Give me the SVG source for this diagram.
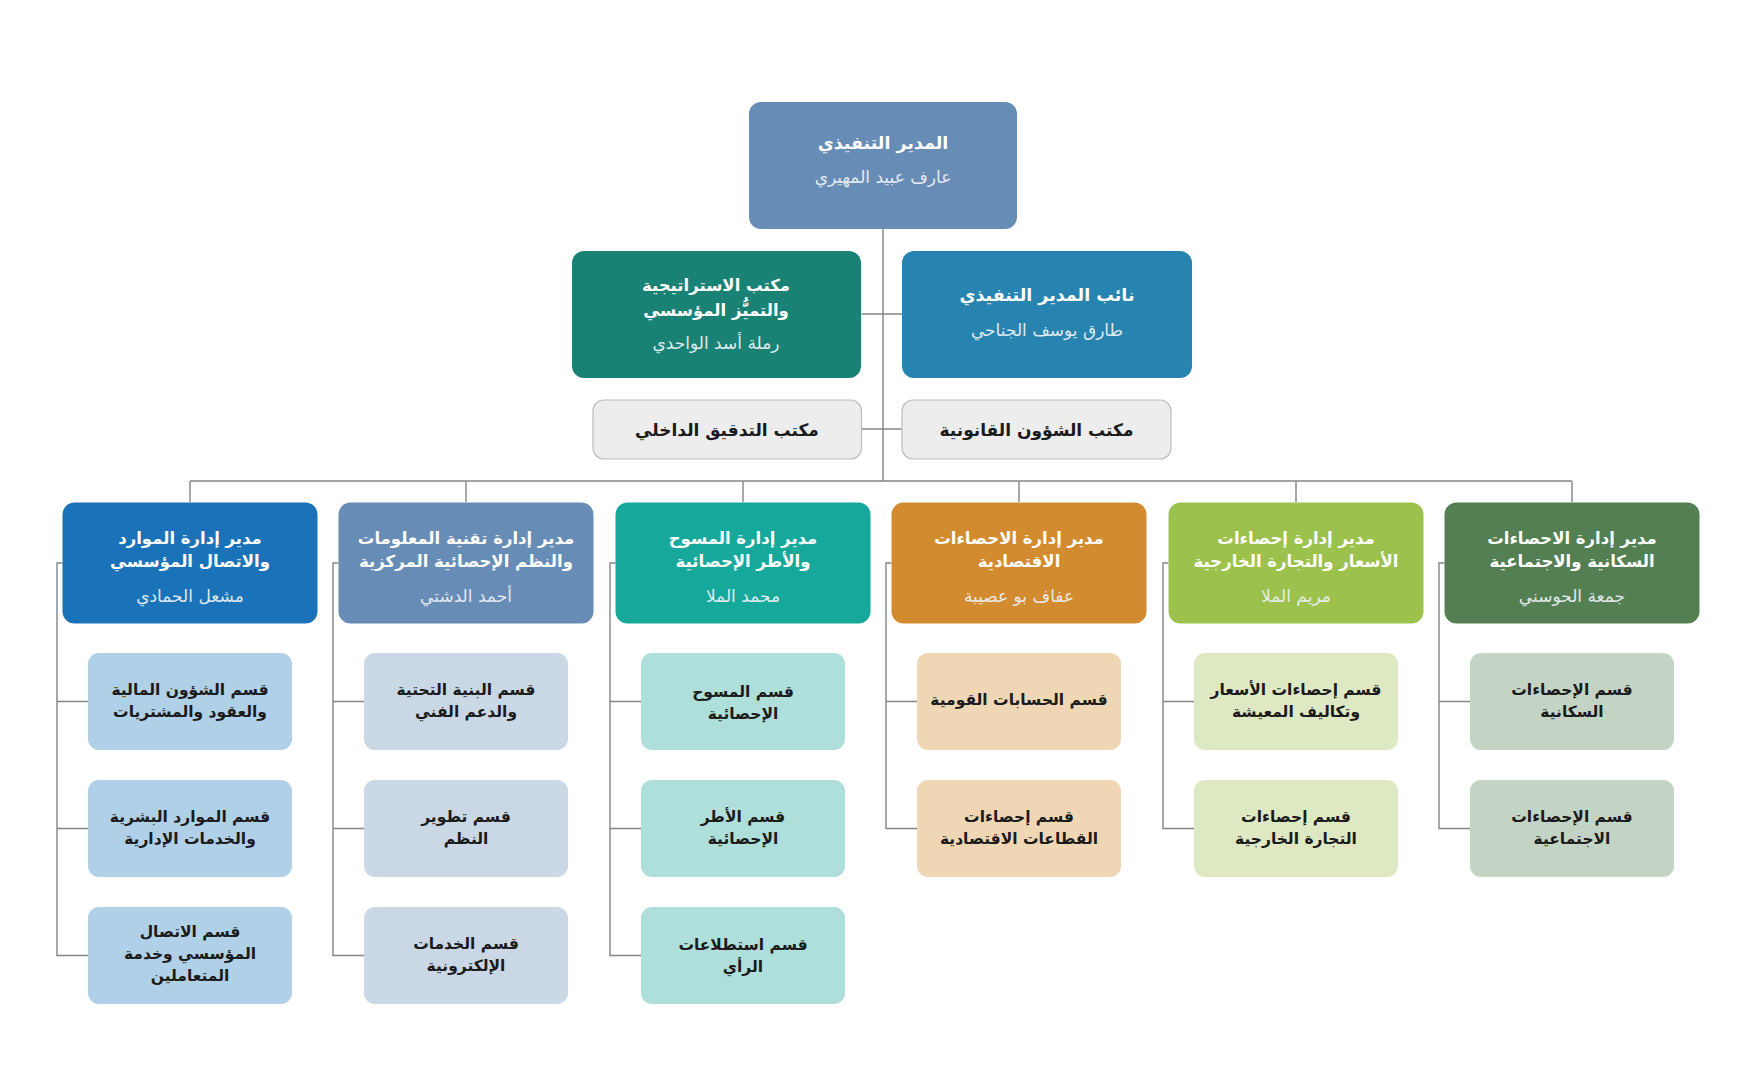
<svg xmlns="http://www.w3.org/2000/svg" width="1755" height="1090" viewBox="0 0 1755 1090">
<style>
text{font-family:"DejaVu Sans","Noto Sans",sans-serif;text-anchor:middle;dominant-baseline:central;direction:rtl}
.t{font-weight:bold;font-size:16.5px;fill:#ffffff}
.n{font-size:17px;fill:#eef3f8;opacity:0.92}
.s{font-weight:bold;font-size:15.5px;fill:#1b1b1b}
.g{font-weight:bold;font-size:17px;fill:#1b1b1b}
.ln{fill:none;stroke:#858585;stroke-width:1.4}
</style>
<rect width="1755" height="1090" fill="#ffffff"/>
<g id="connectors" class="ln">
<path d="M883 229V481M861.5 314H902M861.5 429H902M190 481H1572M190 481V502M466 481V502M743 481V502M1019 481V502M1296 481V502M1572 481V502"/>
<path d="M62.5 563H57V955.5H88M57 701.5H88M57 828.5H88"/>
<path d="M338.5 563H333V955.5H364M333 701.5H364M333 828.5H364"/>
<path d="M615.5 563H610V955.5H641M610 701.5H641M610 828.5H641"/>
<path d="M891.5 563H886V828.5H917M886 701.5H917"/>
<path d="M1168.5 563H1163V828.5H1194M1163 701.5H1194"/>
<path d="M1444.5 563H1439V828.5H1470M1439 701.5H1470"/>
</g>
<g id="ceo"><rect x="749" y="102" width="268" height="127" rx="12" fill="#678cb5"/><text class="t" x="883" y="143" style="font-size:17.5px">المدير التنفيذي</text><text class="n" x="883" y="177">عارف عبيد المهيري</text></g>
<g id="strategy"><rect x="572" y="251" width="289" height="127" rx="12" fill="#1a8275"/><text class="t" x="716" y="285">مكتب الاستراتيجية</text><text class="t" x="716" y="310">والتميُّز المؤسسي</text><text class="n" x="716" y="343">رملة أسد الواحدي</text></g>
<g id="deputy"><rect x="902" y="251" width="290" height="127" rx="12" fill="#2784b0"/><text class="t" x="1047" y="295" style="font-size:17.5px">نائب المدير التنفيذي</text><text class="n" x="1047" y="330">طارق يوسف الجناحي</text></g>
<g id="audit"><rect x="593" y="400" width="268.5" height="59" rx="11" fill="#ededed" stroke="#bdbdbd" stroke-width="1.2"/><text class="g" x="727" y="429.5">مكتب التدقيق الداخلي</text></g>
<g id="legal"><rect x="902" y="400" width="269" height="59" rx="11" fill="#ededed" stroke="#bdbdbd" stroke-width="1.2"/><text class="g" x="1036.5" y="429.5">مكتب الشؤون القانونية</text></g>

<g id="dept1"><rect x="62.5" y="502.5" width="255" height="121" rx="12" fill="#1a72b8"/><text class="t" x="190" y="538">مدير إدارة الموارد</text><text class="t" x="190" y="561.5">والاتصال المؤسسي</text><text class="n" x="190" y="596">مشعل الحمادي</text></g>
<g id="dept2"><rect x="338.5" y="502.5" width="255" height="121" rx="12" fill="#678cb5"/><text class="t" x="466" y="538">مدير إدارة تقنية المعلومات</text><text class="t" x="466" y="561.5">والنظم الإحصائية المركزية</text><text class="n" x="466" y="596">أحمد الدشتي</text></g>
<g id="dept3"><rect x="615.5" y="502.5" width="255" height="121" rx="12" fill="#17a89c"/><text class="t" x="743" y="538">مدير إدارة المسوح</text><text class="t" x="743" y="561.5">والأطر الإحصائية</text><text class="n" x="743" y="596">محمد الملا</text></g>
<g id="dept4"><rect x="891.5" y="502.5" width="255" height="121" rx="12" fill="#d38b30"/><text class="t" x="1019" y="538">مدير إدارة الاحصاءات</text><text class="t" x="1019" y="561.5">الاقتصادية</text><text class="n" x="1019" y="596">عفاف بو عصيبة</text></g>
<g id="dept5"><rect x="1168.5" y="502.5" width="255" height="121" rx="12" fill="#9cc14d"/><text class="t" x="1296" y="538">مدير إدارة إحصاءات</text><text class="t" x="1296" y="561.5">الأسعار والتجارة الخارجية</text><text class="n" x="1296" y="596">مريم الملا</text></g>
<g id="dept6"><rect x="1444.5" y="502.5" width="255" height="121" rx="12" fill="#537f52"/><text class="t" x="1572" y="538">مدير إدارة الاحصاءات</text><text class="t" x="1572" y="561.5">السكانية والاجتماعية</text><text class="n" x="1572" y="596">جمعة الحوسني</text></g>

<g id="sub1a"><rect x="88" y="653" width="204" height="97" rx="11" fill="#b0d0e8"/><text class="s" x="190" y="690">قسم الشؤون المالية</text><text class="s" x="190" y="712">والعقود والمشتريات</text></g>
<g id="sub1b"><rect x="88" y="780" width="204" height="97" rx="11" fill="#b0d0e8"/><text class="s" x="190" y="817">قسم الموارد البشرية</text><text class="s" x="190" y="839">والخدمات الإدارية</text></g>
<g id="sub1c"><rect x="88" y="907" width="204" height="97" rx="11" fill="#b0d0e8"/><text class="s" x="190" y="932">قسم الاتصال</text><text class="s" x="190" y="954">المؤسسي وخدمة</text><text class="s" x="190" y="976">المتعاملين</text></g>

<g id="sub2a"><rect x="364" y="653" width="204" height="97" rx="11" fill="#cad8e6"/><text class="s" x="466" y="690">قسم البنية التحتية</text><text class="s" x="466" y="712">والدعم الفني</text></g>
<g id="sub2b"><rect x="364" y="780" width="204" height="97" rx="11" fill="#cad8e6"/><text class="s" x="466" y="817">قسم تطوير</text><text class="s" x="466" y="839">النظم</text></g>
<g id="sub2c"><rect x="364" y="907" width="204" height="97" rx="11" fill="#cad8e6"/><text class="s" x="466" y="944">قسم الخدمات</text><text class="s" x="466" y="966">الإلكترونية</text></g>

<g id="sub3a"><rect x="641" y="653" width="204" height="97" rx="11" fill="#aedfdb"/><text class="s" x="743" y="692">قسم المسوح</text><text class="s" x="743" y="714">الإحصائية</text></g>
<g id="sub3b"><rect x="641" y="780" width="204" height="97" rx="11" fill="#aedfdb"/><text class="s" x="743" y="817">قسم الأطر</text><text class="s" x="743" y="839">الإحصائية</text></g>
<g id="sub3c"><rect x="641" y="907" width="204" height="97" rx="11" fill="#aedfdb"/><text class="s" x="743" y="945">قسم استطلاعات</text><text class="s" x="743" y="967">الرأي</text></g>

<g id="sub4a"><rect x="917" y="653" width="204" height="97" rx="11" fill="#efd7b5"/><text class="s" x="1019" y="700">قسم الحسابات القومية</text></g>
<g id="sub4b"><rect x="917" y="780" width="204" height="97" rx="11" fill="#efd7b5"/><text class="s" x="1019" y="817">قسم إحصاءات</text><text class="s" x="1019" y="839">القطاعات الاقتصادية</text></g>

<g id="sub5a"><rect x="1194" y="653" width="204" height="97" rx="11" fill="#dee8c3"/><text class="s" x="1296" y="690">قسم إحصاءات الأسعار</text><text class="s" x="1296" y="712">وتكاليف المعيشة</text></g>
<g id="sub5b"><rect x="1194" y="780" width="204" height="97" rx="11" fill="#dee8c3"/><text class="s" x="1296" y="817">قسم إحصاءات</text><text class="s" x="1296" y="839">التجارة الخارجية</text></g>

<g id="sub6a"><rect x="1470" y="653" width="204" height="97" rx="11" fill="#c4d4c4"/><text class="s" x="1572" y="690">قسم الإحصاءات</text><text class="s" x="1572" y="712">السكانية</text></g>
<g id="sub6b"><rect x="1470" y="780" width="204" height="97" rx="11" fill="#c4d4c4"/><text class="s" x="1572" y="817">قسم الإحصاءات</text><text class="s" x="1572" y="839">الاجتماعية</text></g>
</svg>
